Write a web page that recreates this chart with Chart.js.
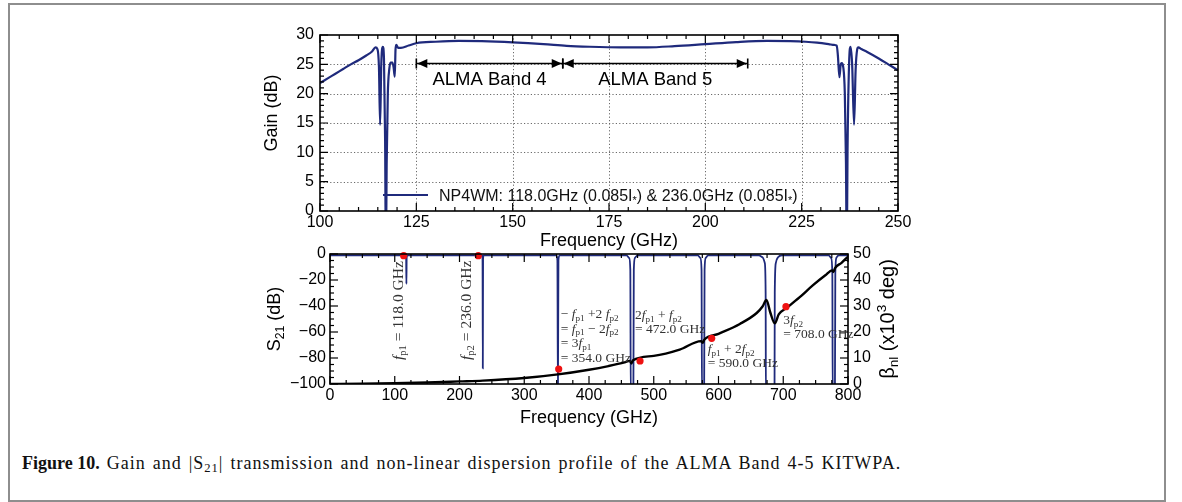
<!DOCTYPE html>
<html>
<head>
<meta charset="utf-8">
<title>Gain and S21 of the ALMA Band 4-5 KITWPA</title>
<script src="https://cdn.jsdelivr.net/npm/chart.js@4.4.1/dist/chart.umd.min.js"></script>
<style>
  html, body { margin: 0; padding: 0; background: #fff; }
  #figure { position: relative; width: 1182px; height: 502px; overflow: hidden; background: #fff; }
  #border { position: absolute; left: 8px; top: 3px; width: 1158px; height: 499px; box-sizing: border-box; border: 2px solid #8e8e8e; }
  canvas { position: absolute; left: 0; }
  #gainChart { top: 0; width: 1182px; height: 256px; }
  #s21Chart { top: 235px; width: 1182px; height: 200px; }
  #caption { position: absolute; left: 22px; top: 453px; font-family: 'Liberation Serif', 'Times New Roman', serif; font-size: 18px; color: #111; white-space: nowrap; }
  #caption .txt { letter-spacing: 1px; word-spacing: 1.5px; }
  #caption sub { font-size: 70%; vertical-align: -0.25em; line-height: 0; }
</style>
</head>
<body>
<div id="figure">
  <div id="border"></div>
  <canvas id="gainChart" width="1182" height="256"></canvas>
  <canvas id="s21Chart" width="1182" height="200"></canvas>
  <div id="caption"><b>Figure 10.</b><span class="txt"> Gain and |S<sub>21</sub>| transmission and non-linear dispersion profile of the ALMA Band 4-5 KITWPA.</span></div>
</div>
<script>
// ---------- gain panel data ----------
const gainFreq = [100, 102, 104, 106, 108, 110, 112, 113.5, 114.4, 114.9, 115.3, 115.6, 115.9, 116.3, 116.6, 116.9, 117.1, 117.3, 117.6, 118.0,
  118.3, 118.8, 119.1, 119.4, 119.6, 119.8, 120.3, 121, 123, 125, 130, 136, 142, 150, 158, 164, 170, 178, 185, 192,
  200, 208, 216, 222, 226, 229, 232, 233.5, 234.1, 234.4, 234.8, 235.1, 235.4, 235.8, 236.2, 236.5, 236.7, 236.9, 237.3, 237.7,
  238.1, 238.6, 239.0, 239.4, 239.7, 240.5, 242, 245, 248, 250];
const gainDb = [21.8, 22.6, 23.4, 24.2, 25.0, 25.7, 26.5, 27.2, 27.9, 27.6, 24.5, 14.7, 25.0, 28.0, 26.0, 12.0, -8, 8, 20, 24.3,
  25.3, 25.3, 24.5, 22.9, 27.5, 28.3, 27.8, 27.8, 28.2, 28.6, 28.85, 29.0, 28.95, 28.75, 28.45, 28.15, 28.0, 27.9, 27.9, 28.1,
  28.45, 28.8, 29.0, 28.95, 28.85, 28.7, 28.45, 28.3, 28.2, 26.5, 22.8, 24.8, 25.2, 24.5, 20, 8, -8, 10, 25, 28.0,
  25, 14.7, 24, 27.5, 27.9, 27.6, 27.1, 26.0, 24.8, 24.0];
const gainLabel = 'NP4WM: 118.0GHz (0.085I_{*}) & 236.0GHz (0.085I_{*})';
const gainFreqTicks = [100, 125, 150, 175, 200, 225, 250];
const gainTicks = [0, 5, 10, 15, 20, 25, 30];

// ALMA receiver bands (GHz)
const bandNames = ['ALMA Band 4', 'ALMA Band 5'];
const bandStart = [125, 163];
const bandEnd = [163, 211];

// ---------- transmission / dispersion panel data ----------
const s21Freq = [0, 116.5, 117.6, 118, 118.4, 119.5, 234.8, 235.6, 236, 236.4, 237.2, 349.5, 351.2, 352, 352.8, 354.5,
  458, 462, 463.8, 464.5, 468.5, 469.2, 471, 475, 568, 572, 573.8, 574.5, 577.8, 578.5, 580.3, 584,
  662, 668, 671.5, 672.8, 673.2, 686.5, 686.9, 688.5, 692, 698, 770, 774, 775.8, 776.4, 779.8, 780.4, 782, 786, 800];
const s21Db = [-1, -1, -3, -23, -3, -1, -1, -4, -88, -4, -1, -1, -5, -110, -5, -1,
  -1, -3, -12, -110, -110, -12, -3, -1, -1, -3, -12, -110, -110, -12, -3, -1,
  -1, -2.5, -7, -30, -110, -110, -30, -7, -2.5, -1, -1, -3, -15, -110, -110, -15, -3, -1, -1];
const betaFreq = [0, 50, 100, 150, 200, 236, 300, 352, 400, 430, 455, 463, 465.5, 468, 500, 540, 573, 575.5, 578, 600,
  633, 659, 668, 674, 680, 687, 693, 705, 725, 746, 765, 775.5, 777.5, 780, 790, 800];
const betaK = [0, 0.1, 0.3, 0.6, 1.0, 1.3, 2.3, 3.7, 5.5, 6.9, 8.3, 8.9, 7.9, 9.1, 10.8, 13.2, 16.5, 15.8, 17.0, 19.3,
  23.1, 27.3, 29.8, 32.3, 27.5, 23.3, 26.8, 29.2, 33.3, 38.0, 41.8, 43.7, 43.1, 44.6, 46.6, 49.0];
const markFreq = [113.8, 229, 353.2, 478.8, 589.5, 704.2];
const markDb = [-1.3, -1.3, -88.5, -82.3, -64.9, -40.5];
const s21FreqTicks = [0, 100, 200, 300, 400, 500, 600, 700, 800];
const s21Ticks = [-100, -80, -60, -40, -20, 0];
const betaTicks = [0, 10, 20, 30, 40, 50];

const pumpLabels = ['<i>f</i>_{p1} = 118.0 GHz', '<i>f</i>_{p2} = 236.0 GHz'];
const mixLabels = [
  ['− <i>f</i>_{p1} +2 <i>f</i>_{p2}', '= <i>f</i>_{p1} − 2<i>f</i>_{p2}', '= 3<i>f</i>_{p1}', '= 354.0 GHz'],
  ['2<i>f</i>_{p1} + <i>f</i>_{p2}', '= 472.0 GHz'],
  ['<i>f</i>_{p1} + 2<i>f</i>_{p2}', '= 590.0 GHz'],
  ['3<i>f</i>_{p2}', '= 708.0 GHz']
];

// ---------- label placement (data coordinates) ----------
const pumpLabelAt = [{ x: 112.7, y: -81.5 }, { x: 217.8, y: -81.5 }];
const mixLabelAt = [
  { x: 356.3, y: -49.1, gap: 14.7 },
  { x: 471, y: -50.3, gap: 14 },
  { x: 583.3, y: -76, gap: 14 },
  { x: 700.1, y: -54.2, gap: 13.3 }
];
const bandArrowLevel = 25.3;
const bandTextLevel = 22.3;

const SANS = "'Liberation Sans', Arial, Helvetica, sans-serif";
const SERIF = "'Liberation Serif', 'Times New Roman', serif";
const NAVY = '#1f2a7c';

// ---------- rich text: <i>..</i> italic, _{..} subscript, ^{..} superscript ----------
function parseRich(s) {
  const parts = s.split(/(<i>|<\/i>|_\{[^}]*\}|\^\{[^}]*\})/).filter(p => p !== '');
  const segs = [];
  let it = false;
  for (const p of parts) {
    if (p === '<i>') it = true;
    else if (p === '</i>') it = false;
    else if (p.startsWith('_{')) segs.push({ t: p.slice(2, -1), it: false, dy: 1 });
    else if (p.startsWith('^{')) segs.push({ t: p.slice(2, -1), it: false, dy: -1 });
    else segs.push({ t: p, it, dy: 0 });
  }
  return segs;
}
function segFont(seg, size, family) {
  const sz = seg.dy ? size * 0.68 : size;
  return (seg.it ? 'italic ' : '') + sz + 'px ' + family;
}
function richWidth(ctx, s, size, family) {
  let w = 0;
  for (const seg of parseRich(s)) { ctx.font = segFont(seg, size, family); w += ctx.measureText(seg.t).width; }
  return w;
}
function drawRich(ctx, s, x, y, size, family, color) {
  ctx.fillStyle = color;
  ctx.textAlign = 'left';
  ctx.textBaseline = 'alphabetic';
  let cx = x;
  for (const seg of parseRich(s)) {
    ctx.font = segFont(seg, size, family);
    const off = seg.dy > 0 ? size * 0.2 : (seg.dy < 0 ? -size * 0.42 : 0);
    ctx.fillText(seg.t, cx, y + off);
    cx += ctx.measureText(seg.t).width;
  }
  return cx - x;
}

// ---------- shared plugins ----------
const inwardTicks = {
  id: 'inwardTicks',
  afterDatasetsDraw(chart, args, opts) {
    const { ctx, chartArea: a } = chart;
    ctx.save();
    ctx.strokeStyle = '#000';
    ctx.lineWidth = 1.2;
    for (const spec of opts.axes) {
      const sc = chart.scales[spec.id];
      const n = Math.round((sc.max - sc.min) / spec.minor);
      for (let k = 0; k <= n; k++) {
        const v = sc.min + k * spec.minor;
        const r = (v - sc.min) / spec.major;
        const len = Math.abs(r - Math.round(r)) < 1e-6 ? 8 : 4;
        const p = sc.getPixelForValue(v);
        ctx.beginPath();
        for (const side of spec.sides) {
          if (side === 'bottom') { ctx.moveTo(p, a.bottom); ctx.lineTo(p, a.bottom - len); }
          if (side === 'top') { ctx.moveTo(p, a.top); ctx.lineTo(p, a.top + len); }
          if (side === 'left') { ctx.moveTo(a.left, p); ctx.lineTo(a.left + len, p); }
          if (side === 'right') { ctx.moveTo(a.right, p); ctx.lineTo(a.right - len, p); }
        }
        ctx.stroke();
      }
    }
    ctx.lineWidth = 1.6;
    ctx.strokeRect(a.left, a.top, a.right - a.left, a.bottom - a.top);
    ctx.restore();
  }
};

const dottedGrid = {
  id: 'dottedGrid',
  beforeDatasetsDraw(chart) {
    const { ctx, chartArea: a, scales: { x, y } } = chart;
    ctx.save();
    ctx.strokeStyle = '#6a6a6a';
    ctx.lineWidth = 1;
    ctx.setLineDash([1.2, 2.2]);
    ctx.beginPath();
    x.ticks.forEach(t => {
      if (t.value > x.min && t.value < x.max) {
        const p = Math.round(x.getPixelForValue(t.value)) + 0.5;
        ctx.moveTo(p, a.top); ctx.lineTo(p, a.bottom);
      }
    });
    y.ticks.forEach(t => {
      if (t.value > y.min && t.value < y.max) {
        const p = Math.round(y.getPixelForValue(t.value)) + 0.5;
        ctx.moveTo(a.left, p); ctx.lineTo(a.right, p);
      }
    });
    ctx.stroke();
    ctx.restore();
  }
};

// band arrows, band names, y title and the line legend of the gain panel
const gainDecor = {
  id: 'gainDecor',
  afterDraw(chart) {
    const { ctx, chartArea: a, scales: { x, y } } = chart;
    ctx.save();
    ctx.fillStyle = '#000';
    ctx.strokeStyle = '#000';
    ctx.lineWidth = 1.6;
    const yy = Math.round(y.getPixelForValue(bandArrowLevel)) + 0.5;
    const bar = px => { ctx.beginPath(); ctx.moveTo(px, yy - 5); ctx.lineTo(px, yy + 5); ctx.stroke(); };
    const head = (px, dir) => {
      ctx.beginPath();
      ctx.moveTo(px, yy);
      ctx.lineTo(px - dir * 10, yy - 4.5);
      ctx.lineTo(px - dir * 10, yy + 4.5);
      ctx.closePath();
      ctx.fill();
    };
    bandNames.forEach((name, i) => {
      const x0 = x.getPixelForValue(bandStart[i]);
      const x1 = x.getPixelForValue(bandEnd[i]);
      ctx.beginPath(); ctx.moveTo(x0, yy); ctx.lineTo(x1, yy); ctx.stroke();
      bar(x0); bar(x1);
      head(x0 + 1, -1);
      head(x1 - 1, 1);
      ctx.font = '18.5px ' + SANS;
      ctx.textAlign = 'center';
      ctx.textBaseline = 'middle';
      ctx.fillText(name, (x0 + x1) / 2, y.getPixelForValue(bandTextLevel));
    });
    // y axis title
    ctx.save();
    ctx.translate(a.left - 48, (a.top + a.bottom) / 2 - 10);
    ctx.rotate(-Math.PI / 2);
    ctx.font = '18px ' + SANS;
    ctx.textAlign = 'center';
    ctx.textBaseline = 'middle';
    ctx.fillText('Gain (dB)', 0, 0);
    ctx.restore();
    // legend entry
    const ly = a.bottom - 16;
    ctx.strokeStyle = NAVY;
    ctx.lineWidth = 2;
    ctx.beginPath(); ctx.moveTo(a.left + 63, ly); ctx.lineTo(a.left + 108, ly); ctx.stroke();
    drawRich(ctx, gainLabel, a.left + 119, ly + 5.5, 16, SANS, '#111');
    ctx.restore();
  }
};

// tone labels and the axis titles with sub/superscripts of the S21 panel
const s21Decor = {
  id: 's21Decor',
  afterDraw(chart) {
    const { ctx, chartArea: a, scales: { x, y } } = chart;
    ctx.save();
    pumpLabels.forEach((s, i) => {
      const px = x.getPixelForValue(pumpLabelAt[i].x);
      const py = y.getPixelForValue(pumpLabelAt[i].y);
      ctx.save();
      ctx.translate(px, py);
      ctx.rotate(-Math.PI / 2);
      drawRich(ctx, s, 0, 0, 15.5, SERIF, '#333');
      ctx.restore();
    });
    mixLabels.forEach((lines, i) => {
      const at = mixLabelAt[i];
      const px = x.getPixelForValue(at.x);
      const py = y.getPixelForValue(at.y);
      lines.forEach((s, k) => drawRich(ctx, s, px, py + k * at.gap, 13.5, SERIF, '#333'));
    });
    const midY = (a.top + a.bottom) / 2;
    const titles = [
      { s: 'S_{21} (dB)', x: a.left - 50, size: 18 },
      { s: 'β_{nl} (x10^{3} deg)', x: a.right + 46, size: 20 }
    ];
    titles.forEach(t => {
      ctx.save();
      ctx.translate(t.x, midY);
      ctx.rotate(-Math.PI / 2);
      const w = richWidth(ctx, t.s, t.size, SANS);
      drawRich(ctx, t.s, -w / 2, 0, t.size, SANS, '#000');
      ctx.restore();
    });
    ctx.restore();
  }
};

const tickFont = { family: SANS, size: 16 };
const titleFont = { family: SANS, size: 18 };
const minusLabel = v => (v < 0 ? '−' + Math.abs(v) : String(v));
const fixedTicks = arr => s => { s.ticks = arr.map(v => ({ value: v })); };

// ---------- gain panel ----------
new Chart(document.getElementById('gainChart'), {
  type: 'line',
  data: {
    datasets: [{
      label: gainLabel,
      data: gainFreq.map((f, i) => ({ x: f, y: gainDb[i] })),
      borderColor: NAVY,
      borderWidth: 2.2,
      pointRadius: 0,
      cubicInterpolationMode: 'monotone',
      fill: false
    }]
  },
  options: {
    responsive: false,
    animation: false,
    devicePixelRatio: 1,
    events: [],
    layout: { padding: { left: 240, right: 284, top: 35, bottom: 0 } },
    plugins: {
      legend: { display: false },
      tooltip: { enabled: false },
      inwardTicks: {
        axes: [
          { id: 'x', major: 25, minor: 5, sides: ['bottom', 'top'] },
          { id: 'y', major: 5, minor: 1, sides: ['left', 'right'] }
        ]
      }
    },
    scales: {
      x: {
        type: 'linear', min: 100, max: 250,
        afterBuildTicks: fixedTicks(gainFreqTicks),
        afterFit: s => { s.height = 45; },
        grid: { display: false, drawTicks: false },
        border: { display: false },
        ticks: { font: tickFont, color: '#000', padding: 2, maxRotation: 0, autoSkip: false },
        title: { display: true, text: 'Frequency (GHz)', font: titleFont, color: '#000', padding: { top: 0, bottom: 4 } }
      },
      y: {
        type: 'linear', min: 0, max: 30,
        afterBuildTicks: fixedTicks(gainTicks),
        afterFit: s => { s.width = 80; },
        grid: { display: false, drawTicks: false },
        border: { display: false },
        ticks: { font: tickFont, color: '#000', padding: 6, autoSkip: false }
      }
    }
  },
  plugins: [dottedGrid, inwardTicks, gainDecor]
});

// ---------- transmission / dispersion panel ----------
new Chart(document.getElementById('s21Chart'), {
  type: 'line',
  data: {
    datasets: [
      {
        label: 'mixing products',
        data: markFreq.map((f, i) => ({ x: f, y: markDb[i] })),
        yAxisID: 'y',
        showLine: false,
        pointRadius: 3.6,
        pointBorderWidth: 0,
        pointBackgroundColor: '#ee1111',
        clip: false,
        order: 0
      },
      {
        label: 'β_nl',
        data: betaFreq.map((f, i) => ({ x: f, y: betaK[i] })),
        yAxisID: 'y2',
        borderColor: '#000',
        borderWidth: 2.4,
        pointRadius: 0,
        cubicInterpolationMode: 'monotone',
        fill: false,
        order: 1
      },
      {
        label: 'S21',
        data: s21Freq.map((f, i) => ({ x: f, y: s21Db[i] })),
        yAxisID: 'y',
        borderColor: NAVY,
        borderWidth: 1.8,
        pointRadius: 0,
        cubicInterpolationMode: 'monotone',
        fill: false,
        order: 2
      }
    ]
  },
  options: {
    responsive: false,
    animation: false,
    devicePixelRatio: 1,
    events: [],
    layout: { padding: { left: 240, right: 274, top: 19, bottom: 0 } },
    plugins: {
      legend: { display: false },
      tooltip: { enabled: false },
      inwardTicks: {
        axes: [
          { id: 'x', major: 100, minor: 25, sides: ['bottom', 'top'] },
          { id: 'y', major: 20, minor: 5, sides: ['left'] },
          { id: 'y2', major: 10, minor: 2.5, sides: ['right'] }
        ]
      }
    },
    scales: {
      x: {
        type: 'linear', min: 0, max: 800,
        afterBuildTicks: fixedTicks(s21FreqTicks),
        afterFit: s => { s.height = 51; },
        grid: { display: false, drawTicks: false },
        border: { display: false },
        ticks: { font: tickFont, color: '#000', padding: 2, maxRotation: 0, autoSkip: false },
        title: { display: true, text: 'Frequency (GHz)', font: titleFont, color: '#000', padding: { top: 0, bottom: 6 } }
      },
      y: {
        type: 'linear', position: 'left', min: -100, max: 0,
        afterBuildTicks: fixedTicks(s21Ticks),
        afterFit: s => { s.width = 90; },
        grid: { display: false, drawTicks: false },
        border: { display: false },
        ticks: { font: tickFont, color: '#000', padding: 4, autoSkip: false, callback: minusLabel }
      },
      y2: {
        type: 'linear', position: 'right', min: 0, max: 50,
        afterBuildTicks: fixedTicks(betaTicks),
        afterFit: s => { s.width = 60; },
        grid: { display: false, drawTicks: false },
        border: { display: false },
        ticks: { font: tickFont, color: '#000', padding: 5, autoSkip: false }
      }
    }
  },
  plugins: [inwardTicks, s21Decor]
});
</script>
</body>
</html>
